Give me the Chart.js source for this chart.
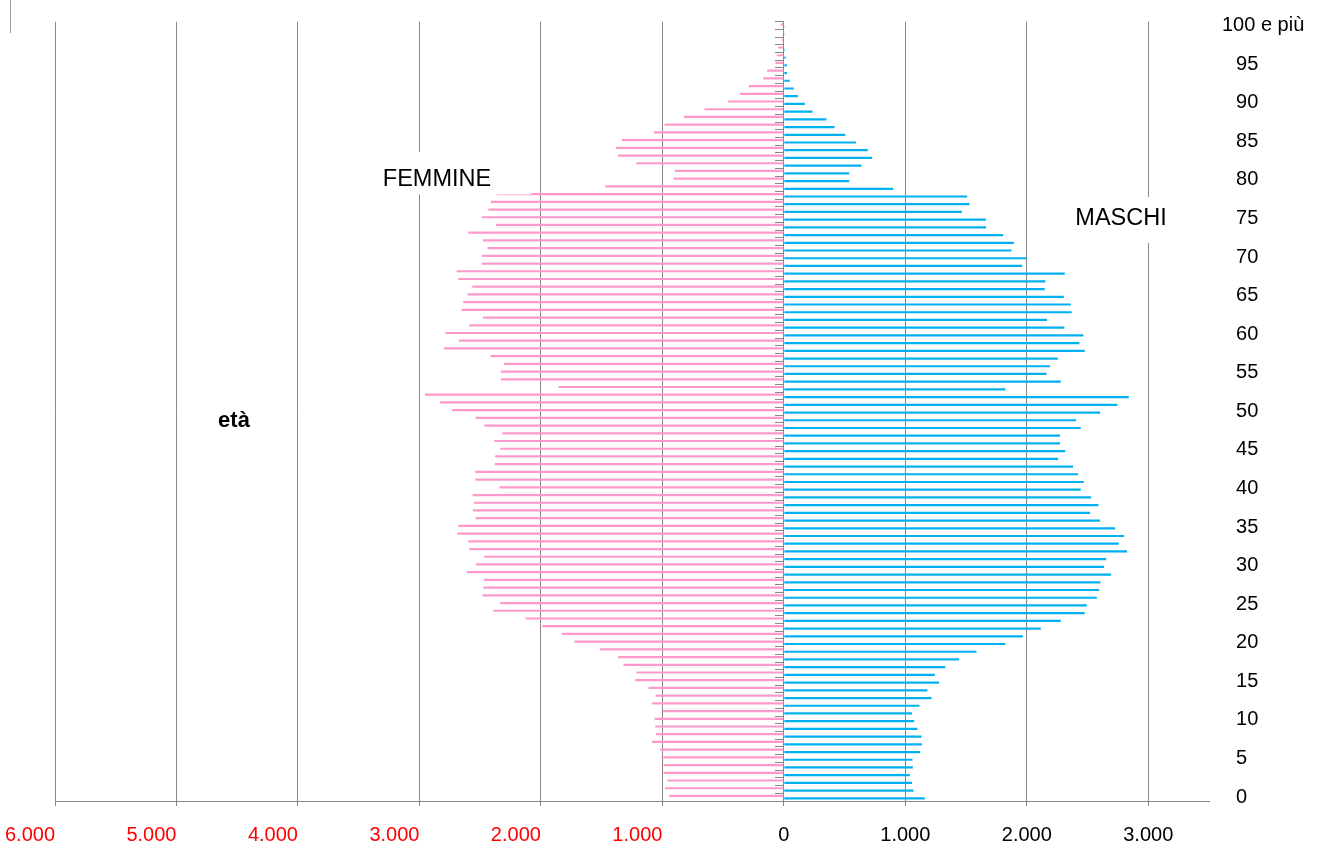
<!DOCTYPE html>
<html><head><meta charset="utf-8">
<script src="https://cdn.jsdelivr.net/npm/chart.js@4.4.1/dist/chart.umd.min.js"></script>
<style>html,body{margin:0;padding:0;background:#fff}canvas{display:block}</style>
</head><body>
<canvas id="c" width="1338" height="861"></canvas>
<script>
const ages = ["0","1","2","3","4","5","6","7","8","9","10","11","12","13","14","15","16","17","18","19","20","21","22","23","24","25","26","27","28","29","30","31","32","33","34","35","36","37","38","39","40","41","42","43","44","45","46","47","48","49","50","51","52","53","54","55","56","57","58","59","60","61","62","63","64","65","66","67","68","69","70","71","72","73","74","75","76","77","78","79","80","81","82","83","84","85","86","87","88","89","90","91","92","93","94","95","96","97","98","99","100 e più"];
const femmine = [944,979,960,990,990,1007,1018,1086,1053,1059,1064,993,1086,1056,1114,1224,1215,1320,1364,1514,1723,1827,1989,2126,2392,2335,2480,2475,2469,2609,2535,2469,2590,2598,2689,2680,2538,2560,2551,2562,2343,2540,2540,2381,2376,2335,2384,2318,2466,2538,2730,2831,2955,1855,2329,2329,2302,2414,2798,2675,2785,2590,2477,2653,2639,2604,2565,2680,2694,2486,2486,2439,2477,2598,2370,2486,2433,2412,2365,1470,908,897,1215,1364,1383,1333,1070,982,823,653,461,362,288,170,137,69,58,47,16,7,25];
const maschi = [1160,1067,1056,1037,1062,1059,1122,1136,1133,1100,1073,1056,1117,1215,1182,1278,1243,1328,1443,1586,1824,1967,2115,2280,2477,2494,2576,2595,2606,2694,2636,2653,2826,2757,2801,2727,2604,2521,2590,2529,2444,2469,2422,2381,2258,2316,2274,2274,2444,2406,2604,2746,2840,1824,2280,2162,2192,2255,2477,2433,2466,2310,2167,2370,2362,2305,2148,2154,2313,1962,1997,1874,1893,1805,1665,1663,1465,1528,1509,900,538,538,639,727,691,593,505,417,351,236,173,115,82,49,25,25,16,8,4,2,2];
const xTickValues = [-6000,-5000,-4000,-3000,-2000,-1000,0,1000,2000,3000];
const xMin = -6000, xMax = 3500;
const seriesNames = ["FEMMINE", "MASCHI"];
const axisTitle = "età";

function fmt(v){
  const s = String(Math.abs(v)).replace(/\B(?=(\d{3})+(?!\d))/g, ".");
  return v < 0 ? s + "         " : s;
}

const notes = {
  id: 'notes',
  afterDatasetsDraw(chart){
    const c = chart.ctx;
    c.save();
    c.fillStyle = '#fff';
    c.fillRect(343, 152, 188, 42.5);
    c.fillRect(1032, 197, 176, 46);
    c.fillStyle = '#000';
    c.textAlign = 'center';
    c.textBaseline = 'middle';
    c.font = '23.5px "Liberation Sans", Arial, sans-serif';
    c.fillText(seriesNames[0], 437, 180);
    c.fillText(seriesNames[1], 1121, 219);
    c.font = 'bold 22px "Liberation Sans", Arial, sans-serif';
    c.fillText(axisTitle, 234, 421);
    c.strokeStyle = '#a0a0a0';
    c.lineWidth = 1;
    c.beginPath(); c.moveTo(10.5, 0); c.lineTo(10.5, 33); c.stroke();
    c.restore();
  }
};

const grey = '#878787';
const fontFam = '"Liberation Sans", Arial, sans-serif';
new Chart(document.getElementById('c'), {
  type: 'bar',
  data: {
    labels: ages,
    datasets: [
      { label: seriesNames[0], data: femmine.map(v => -v), backgroundColor: '#FF99CC', borderWidth: 0 },
      { label: seriesNames[1], data: maschi, backgroundColor: '#00B0F0', borderWidth: 0 }
    ]
  },
  options: {
    indexAxis: 'y',
    responsive: false,
    animation: false,
    events: [],
    categoryPercentage: 0.62,
    barPercentage: 0.92,
    layout: { padding: { left: 55, top: 21.7, right: 0, bottom: 0 } },
    plugins: { legend: { display: false }, tooltip: { enabled: false } },
    scales: {
      x: {
        type: 'linear',
        min: xMin, max: xMax,
        afterBuildTicks(s){ s.ticks = xTickValues.map(v => ({ value: v })); },
        afterFit(s){ s.height = 60; s.paddingLeft = 0; s.paddingRight = 0; },
        ticks: {
          autoSkip: false,
          maxRotation: 0,
          minRotation: 0,
          padding: 17,
          font: { family: fontFam, size: 20 },
          color: (ctx) => (ctx.tick && ctx.tick.value < 0) ? '#FF0000' : '#000000',
          callback: (v) => fmt(v)
        },
        grid: { color: grey, lineWidth: 1, tickLength: 5, drawTicks: true },
        border: { color: grey, width: 1 }
      },
      y: {
        type: 'category',
        reverse: true,
        offset: true,
        position: { x: 0 },
        ticks: { display: false },
        grid: { offset: true, drawOnChartArea: false, drawTicks: true, tickLength: 8, color: grey, lineWidth: 1 },
        border: { display: true, color: grey, width: 1 }
      },
      y2: {
        type: 'category',
        labels: ages,
        reverse: true,
        offset: true,
        position: 'right',
        afterFit(s){ s.width = 129; s.paddingTop = 0; s.paddingBottom = 0; },
        grid: { display: false },
        border: { display: false },
        ticks: {
          autoSkip: false,
          crossAlign: 'near',
          padding: 5,
          font: { family: fontFam, size: 20 },
          color: '#000',
          callback: function(v, i){
            if (i % 5 !== 0) return '';
            const t = this.getLabelForValue(v);
            return i === ages.length - 1 ? t : '\u2002\u2009' + t;
          }
        }
      }
    }
  },
  plugins: [notes]
});
</script>
</body></html>
